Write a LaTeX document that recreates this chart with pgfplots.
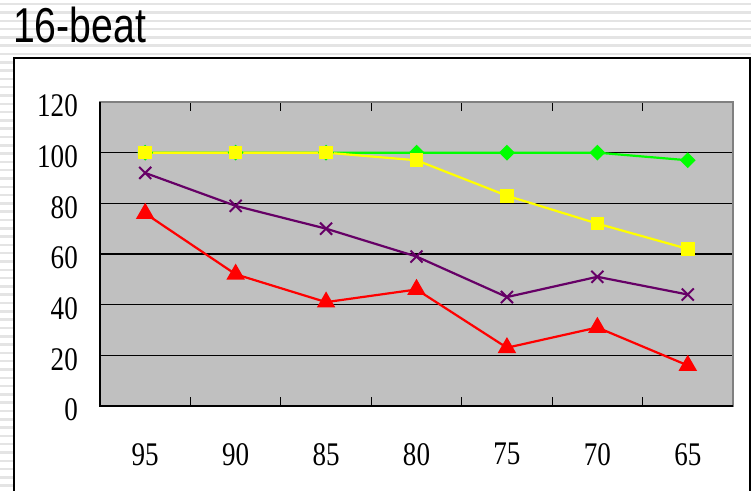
\documentclass[border=0pt]{standalone}
\usepackage{fontspec}
\usepackage{pgfplots}
\pgfplotsset{compat=1.18}
\newfontfamily\titlefont[FakeStretch=0.8]{Liberation Sans}
\newfontfamily\tickfont[FakeStretch=0.82]{Liberation Serif}
\definecolor{plotgray}{HTML}{C0C0C0}
\definecolor{stripe}{HTML}{E4E4E4}
\definecolor{sgreen}{HTML}{00FF00}
\definecolor{syellow}{HTML}{FFFF00}
\definecolor{spurple}{HTML}{660066}
\definecolor{sred}{HTML}{FF0000}

\pgfplotstableread{
x green yellow purple red
0 100 100 92 76
1 100 100 79 52
2 100 100 70 41
3 100 97 59 46
4 100 83 43 23
5 100 72 51 31
6 97 62 44 16
}\datatable

\begin{document}
\begin{tikzpicture}
\useasboundingbox (0pt,0pt) rectangle (751pt,490pt);
\fill[white] (0pt,0pt) rectangle (751pt,490pt);
\foreach \i in {0,...,60} {
  \fill[stripe] (0pt,{490pt-3pt-\i*8.3pt}) rectangle (751pt,{490pt-5.5pt-\i*8.3pt});
}
\fill[white] (14pt,-5pt) rectangle (750pt,432pt);
\draw[black, line width=2pt] (14pt,-5pt) -- (14pt,432pt) -- (750pt,432pt) -- (750pt,-5pt);
\node[anchor=base west, inner sep=0pt, font=\titlefont\fontsize{49}{49}\selectfont] at (13pt,447pt) {16-beat};

\begin{axis}[
  at={(100pt,84pt)}, anchor=south west,
  width=633pt, height=304pt, scale only axis,
  xmin=-0.5, xmax=6.5, ymin=0, ymax=120,
  ytick={0,20,...,120},
  xtick={0,...,6},
  xticklabels={95,90,85,80,75,70,65},
  every major x tick/.append style={draw=none},
  minor xtick={0.5,1.5,2.5,3.5,4.5,5.5},
  tick align=inside,
  major tick length=8pt, minor tick length=9pt,
  tick style={black, line width=1pt},
  ymajorgrids,
  major grid style={black, line width=1.1pt},
  axis background/.style={fill=plotgray},
  axis line style={draw=gray, line width=1.5pt},
  /pgf/number format/assume math mode=true,
  ticklabel style={font=\tickfont\fontsize{33}{33}\selectfont},
  yticklabel style={anchor=east, inner sep=0pt, xshift=-22pt, yshift=-4pt},
  xticklabel style={anchor=north, inner sep=0pt, yshift=-37pt},
  clip=false,
]
\addplot[sgreen, line width=2.2pt, mark=square*, mark size=4.5pt, mark options={rotate=45, solid}] table[x=x, y=green] {\datatable};
\addplot[syellow, line width=2.2pt, mark=square*, mark size=5.7pt, mark options={solid}] table[x=x, y=yellow] {\datatable};
\addplot[spurple, line width=2.2pt, mark=x, mark size=8.5pt, mark options={solid, line width=2pt}] table[x=x, y=purple] {\datatable};
\addplot[sred, line width=2.2pt, mark=triangle*, mark size=8.5pt, mark options={solid}] table[x=x, y=red] {\datatable};
\draw[black, line width=1.8pt] (rel axis cs:0,1) -- (rel axis cs:0,0) -- (rel axis cs:1,0);
\end{axis}
\end{tikzpicture}
\end{document}
